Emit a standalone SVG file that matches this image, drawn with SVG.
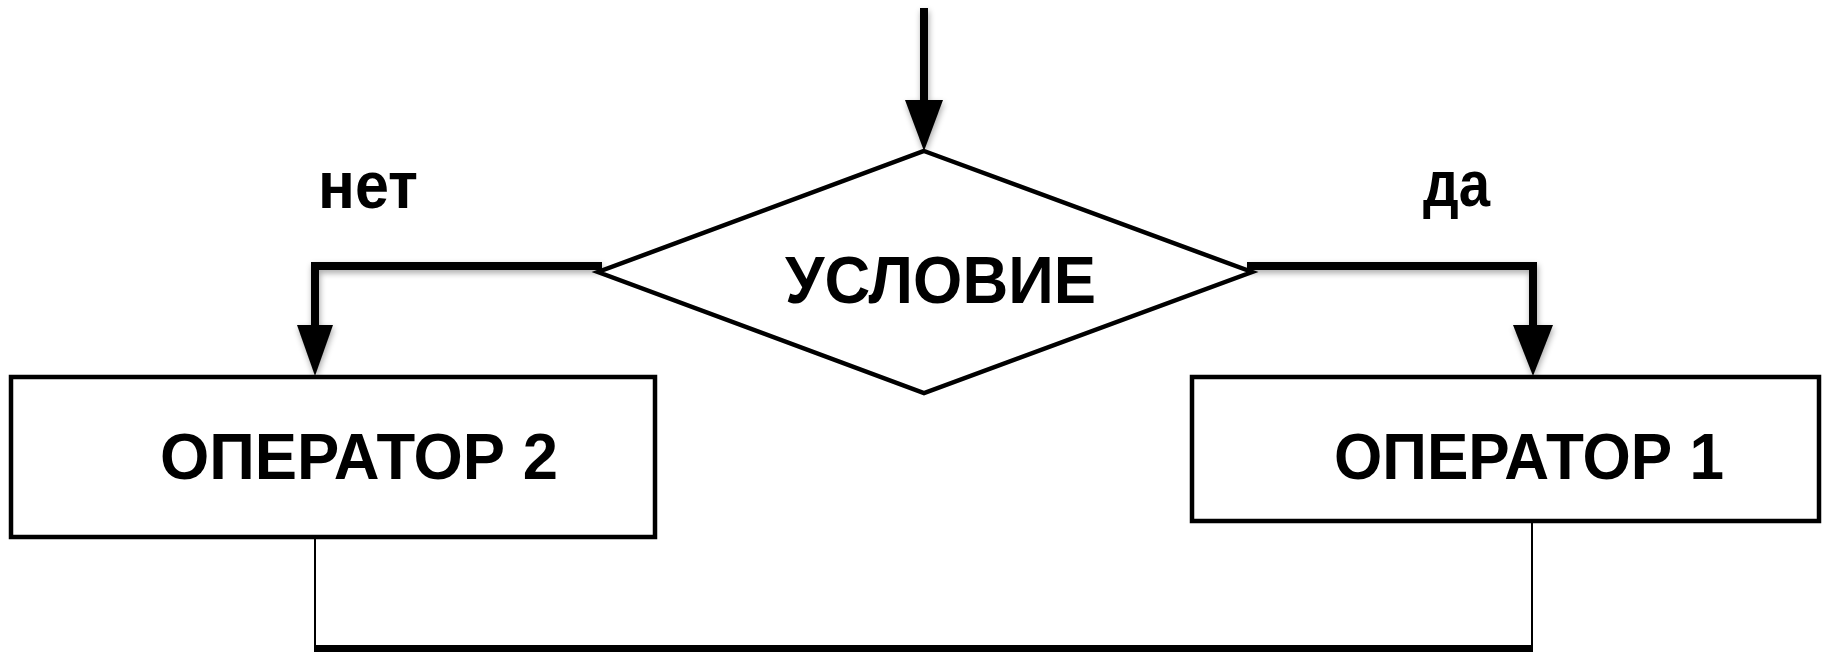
<svg xmlns="http://www.w3.org/2000/svg" width="1826" height="652" viewBox="0 0 1826 652">
<style>
  .shape { fill: #ffffff; stroke: #000000; stroke-width: 4.5; }
  .conn { fill: none; stroke: #000000; stroke-width: 8; stroke-linecap: butt; }
  .thin { fill: none; stroke: #000000; stroke-width: 2; }
  .head { fill: #000000; stroke: none; }
  .lbl { font-family: "Liberation Sans", Arial, sans-serif; font-weight: bold; fill: #000000; }
</style>
<defs>
  <filter id="sh" x="-20%" y="-20%" width="140%" height="160%">
    <feGaussianBlur in="SourceAlpha" stdDeviation="3"/>
    <feOffset dx="1" dy="3" result="b"/>
    <feComponentTransfer><feFuncA type="linear" slope="0.35"/></feComponentTransfer>
    <feMerge><feMergeNode/><feMergeNode in="SourceGraphic"/></feMerge>
  </filter>
</defs>
<rect x="0" y="0" width="1826" height="652" fill="#ffffff"/>

<g id="connectors">
  <g filter="url(#sh)">
    <line class="conn" x1="924" y1="8" x2="924" y2="102"/>
    <polygon class="head" points="905,100 943,100 924,151"/>
    <polyline class="conn" points="602,266 315,266 315,327"/>
    <polygon class="head" points="297,325 333,325 315,376"/>
    <polyline class="conn" points="1247,266 1533,266 1533,327"/>
    <polygon class="head" points="1513,325 1553,325 1533,376"/>
  </g>
  <line class="thin" x1="315" y1="537" x2="315" y2="646"/>
  <line class="thin" x1="1532" y1="521" x2="1532" y2="646"/>
  <line class="conn" x1="314" y1="649" x2="1533" y2="649"/>
</g>

<g id="condition">
  <polygon class="shape" points="924,151 1252,272 924,393 598,272"/>
  <text class="lbl" x="785" y="303" font-size="66" textLength="311" lengthAdjust="spacingAndGlyphs">УСЛОВИЕ</text>
</g>

<g id="label-no">
  <text class="lbl" x="318" y="208" font-size="66" textLength="100" lengthAdjust="spacingAndGlyphs">нет</text>
</g>

<g id="label-yes">
  <text class="lbl" x="1423" y="206" font-size="64" textLength="67" lengthAdjust="spacingAndGlyphs">да</text>
</g>

<g id="operator2">
  <rect class="shape" x="11" y="377" width="644" height="160"/>
  <text class="lbl" x="160" y="479" font-size="65" textLength="398" lengthAdjust="spacingAndGlyphs">ОПЕРАТОР 2</text>
</g>

<g id="operator1">
  <rect class="shape" x="1192" y="377" width="627" height="144"/>
  <text class="lbl" x="1334" y="479" font-size="65" textLength="390" lengthAdjust="spacingAndGlyphs">ОПЕРАТОР 1</text>
</g>
</svg>
